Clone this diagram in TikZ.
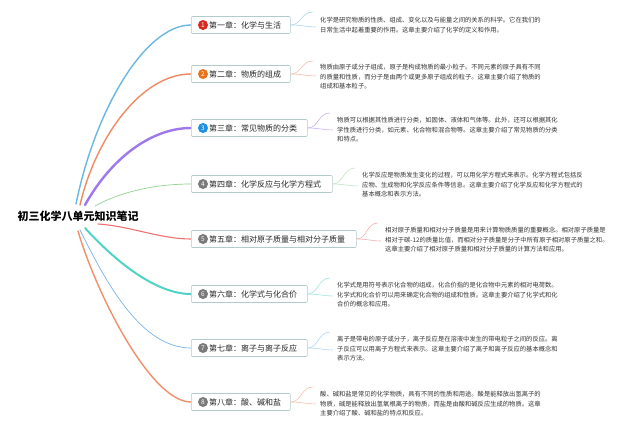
\documentclass[tikz,border=0pt]{standalone}
\usepackage{fontspec}
\newfontfamily\cjk{Noto Sans CJK SC}
\definecolor{bA}{HTML}{6AB7E3}
\definecolor{bB}{HTML}{F08A64}
\definecolor{bC}{HTML}{9E78EE}
\definecolor{bD}{HTML}{93D093}
\definecolor{bE}{HTML}{EE7070}
\definecolor{bF}{HTML}{4FD3C6}
\definecolor{bG}{HTML}{78B4E8}
\definecolor{bH}{HTML}{F0906A}
\definecolor{nA}{HTML}{D8291F}
\definecolor{nB}{HTML}{E8731C}
\definecolor{nC}{HTML}{1C8FE0}
\definecolor{nG}{HTML}{7A7A7A}
\definecolor{boxline}{HTML}{B3CCCB}
\definecolor{desc}{HTML}{333333}
\tikzset{
  chbox/.style={draw=boxline, line width=0.6pt, rounded corners=1pt, fill=white, minimum height=17pt, inner sep=0pt, anchor=west},
  numdot/.style={circle, fill=#1, inner sep=0pt, minimum size=10pt, text=white, font=\cjk\fontsize{6.5}{7}\selectfont},
  chtext/.style={anchor=west, inner sep=0pt, font=\cjk\fontsize{8}{9}\selectfont, text=black!85},
  desctext/.style={anchor=north west, inner sep=0pt, align=left, font=\cjk\fontsize{6.3}{9.6}\selectfont, text=desc},
  branch/.style={draw=#1, line cap=round},
  twig/.style={draw=#1!55, line width=0.6pt},
}
\begin{document}
\begin{tikzpicture}[x=1pt,y=-1pt]
\useasboundingbox[fill=white] (0,0) rectangle (640,432);
% root
\node[inner sep=0pt, font=\cjk\bfseries\fontsize{11}{12}\selectfont] (root) at (78,216) {初三化学八单元知识笔记};
\coordinate (r1) at (76,204);
\coordinate (r2) at (80,205);
\coordinate (r3) at (85,205);
\coordinate (r4) at (95,206);
\coordinate (r5) at (98,224);
\coordinate (r6) at (85,228);
\coordinate (r7) at (80,230);
\coordinate (r8) at (78,231);
% branches
\draw[branch=bA, line width=1.4pt] (r1) .. controls (95,110) and (145,25) .. (191,25);
\draw[branch=bB, line width=1.4pt] (r2) .. controls (95,140) and (140,74) .. (191,74);
\draw[branch=bC, line width=2.4pt] (r3) .. controls (110,160) and (150,128) .. (191,128);
\draw[branch=bD, line width=0.7pt] (r4) .. controls (120,192) and (155,184) .. (191,184);
\draw[branch=bE, line width=1.1pt] (r5) .. controls (130,226) and (160,239) .. (191,239);
\draw[branch=bF, line width=2pt] (r6) .. controls (105,250) and (150,294) .. (191,294);
\draw[branch=bG, line width=0.7pt] (r7) .. controls (105,280) and (140,348) .. (191,348);
\draw[branch=bH, line width=1.4pt] (r8) .. controls (95,290) and (150,402) .. (191,402);
% chapter boxes
\node[chbox, minimum width=99pt] (c1) at (191,25) {};
\node[chbox, minimum width=99pt] (c2) at (191,74) {};
\node[chbox, minimum width=116pt] (c3) at (191,128) {};
\node[chbox, minimum width=141pt] (c4) at (191,184) {};
\node[chbox, minimum width=165pt] (c5) at (191,239) {};
\node[chbox, minimum width=116pt] (c6) at (191,294) {};
\node[chbox, minimum width=116pt] (c7) at (191,348) {};
\node[chbox, minimum width=99pt] (c8) at (191,402) {};
\node[numdot=nA] (n1) at (203,25) {1};
\node[numdot=nB] (n2) at (203,74) {2};
\node[numdot=nC] (n3) at (203,128) {3};
\node[numdot=nG] (n4) at (203,184) {4};
\node[numdot=nG] (n5) at (203,239) {5};
\node[numdot=nG] (n6) at (203,294) {6};
\node[numdot=nG] (n7) at (203,348) {7};
\node[numdot=nG] (n8) at (203,402) {8};
\node[chtext] (t1) at (209,25) {第一章：化学与生活};
\node[chtext] (t2) at (209,74) {第二章：物质的组成};
\node[chtext] (t3) at (209,128) {第三章：常见物质的分类};
\node[chtext] (t4) at (209,184) {第四章：化学反应与化学方程式};
\node[chtext] (t5) at (209,239) {第五章：相对原子质量与相对分子质量};
\node[chtext] (t6) at (209,294) {第六章：化学式与化合价};
\node[chtext] (t7) at (209,348) {第七章：离子与离子反应};
\node[chtext] (t8) at (209,402) {第八章：酸、碱和盐};
% descriptions
\node[desctext] (d1) at (320,17) {化学是研究物质的性质、组成、变化以及与能量之间的关系的科学。它在我们的\\日常生活中起着重要的作用。这章主要介绍了化学的定义和作用。};
\node[desctext] (d2) at (320,64) {物质由原子或分子组成，原子是构成物质的最小粒子。不同元素的原子具有不同\\的质量和性质，而分子是由两个或更多原子组成的粒子。这章主要介绍了物质的\\组成和基本粒子。};
\node[desctext] (d3) at (337,117) {物质可以根据其性质进行分类，如固体、液体和气体等。此外，还可以根据其化\\学性质进行分类，如元素、化合物和混合物等。这章主要介绍了常见物质的分类\\和特点。};
\node[desctext] (d4) at (362,172) {化学反应是物质发生变化的过程，可以用化学方程式来表示。化学方程式包括反\\应物、生成物和化学反应条件等信息。这章主要介绍了化学反应和化学方程式的\\基本概念和表示方法。};
\node[desctext] (d5) at (385,227) {相对原子质量和相对分子质量是用来计算物质质量的重要概念。相对原子质量是\\相对于碳-12的质量比值，而相对分子质量是分子中所有原子相对原子质量之和。\\这章主要介绍了相对原子质量和相对分子质量的计算方法和应用。};
\node[desctext] (d6) at (337,282) {化学式是用符号表示化合物的组成，化合价指的是化合物中元素的相对电荷数。\\化学式和化合价可以用来确定化合物的组成和性质。这章主要介绍了化学式和化\\合价的概念和应用。};
\node[desctext] (d7) at (337,336) {离子是带电的原子或分子，离子反应是在溶液中发生的带电粒子之间的反应。离\\子反应可以用离子方程式来表示。这章主要介绍了离子和离子反应的基本概念和\\表示方法。};
\node[desctext] (d8) at (320,391) {酸、碱和盐是常见的化学物质，具有不同的性质和用途。酸是能释放出氢离子的\\物质，碱是能释放出氢氧根离子的物质，而盐是由酸和碱反应生成的物质。这章\\主要介绍了酸、碱和盐的特点和反应。};
% twigs
\coordinate (u1) at (313,12);  \coordinate (w1) at (316,27);
\coordinate (u2) at (313,61);  \coordinate (w2) at (316,76);
\coordinate (u3) at (330,113); \coordinate (w3) at (333,130);
\coordinate (u4) at (355,168); \coordinate (w4) at (358,186);
\coordinate (u5) at (378,223); \coordinate (w5) at (381,241);
\coordinate (u6) at (330,278); \coordinate (w6) at (333,296);
\coordinate (u7) at (330,332); \coordinate (w7) at (333,350);
\coordinate (u8) at (313,387); \coordinate (w8) at (316,404);
\foreach \i/\c in {1/bA,2/bB,3/bC,4/bD,5/bE,6/bF,7/bG,8/bH}{
  \draw[twig=\c] (c\i.east) .. controls +(11,0) and +(-12,0) .. (u\i);
  \draw[twig=\c] (c\i.east) .. controls +(10,0) and +(-8,0) .. (w\i);
}
\end{tikzpicture}
\end{document}
